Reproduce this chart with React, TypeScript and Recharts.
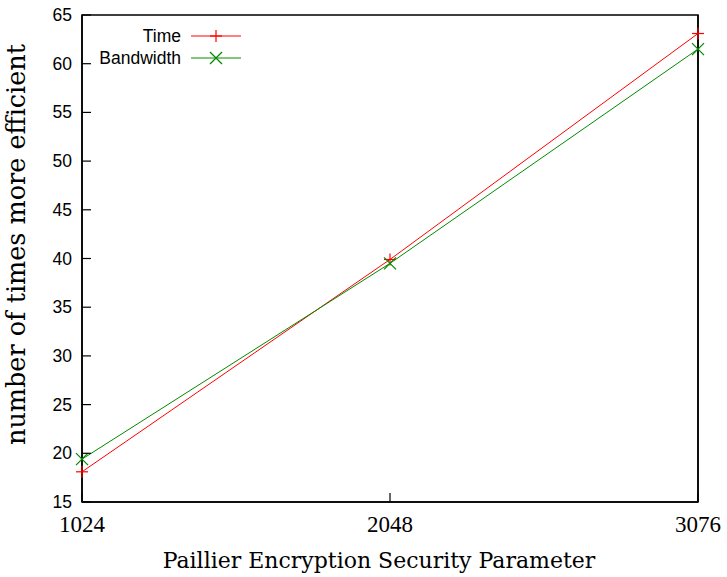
import React from 'react';
import { LineChart, Line, XAxis, YAxis, Label, ReferenceArea } from 'recharts';

const categories = ['1024', '2048', '3076'];
const timeValues = [18.1, 39.9, 63.1];
const bandwidthValues = [19.4, 39.5, 61.5];
const yTicks = [15, 20, 25, 30, 35, 40, 45, 50, 55, 60, 65];

const data = categories.map((c, i) => ({ param: c, time: timeValues[i], bandwidth: bandwidthValues[i] }));

const RED = '#ff0000';
const GREEN = '#008a00';
const SERIF = '"Liberation Serif", "DejaVu Serif", serif';
const LABEL_SERIF = '"DejaVu Serif", serif';
const SANS = '"Liberation Sans", Arial, sans-serif';
const TICK_MARGIN = 10;
const TICK_LEN = 9;

const PlusDot = (props: any) => {
  const { cx, cy } = props;
  if (cx == null || cy == null) return null;
  const s = 6;
  return (
    <g>
      <line x1={cx - s} y1={cy} x2={cx + s} y2={cy} stroke={RED} strokeWidth={1.2} />
      <line x1={cx} y1={cy - s} x2={cx} y2={cy + s} stroke={RED} strokeWidth={1.2} />
    </g>
  );
};

const CrossDot = (props: any) => {
  const { cx, cy } = props;
  if (cx == null || cy == null) return null;
  const s = 6;
  return (
    <g>
      <line x1={cx - s} y1={cy - s} x2={cx + s} y2={cy + s} stroke={GREEN} strokeWidth={1.2} />
      <line x1={cx - s} y1={cy + s} x2={cx + s} y2={cy - s} stroke={GREEN} strokeWidth={1.2} />
    </g>
  );
};

const LeftTick = (props: any) => {
  const { x, y, payload } = props;
  const ax = x + TICK_MARGIN;
  return (
    <g>
      <line x1={ax} y1={y} x2={ax + TICK_LEN} y2={y} stroke="#000" strokeWidth={1.2} />
      <text x={x} y={y} dy={6} textAnchor="end" fontFamily={SANS} fontSize={17.5} fill="#000">
        {payload.value}
      </text>
    </g>
  );
};

const RightTick = (props: any) => {
  const { x, y } = props;
  const ax = x - TICK_MARGIN;
  return <line x1={ax} y1={y} x2={ax - TICK_LEN} y2={y} stroke="#000" strokeWidth={1.2} />;
};

const BottomTick = (props: any) => {
  const { x, y, payload } = props;
  const ay = y - TICK_MARGIN;
  return (
    <g>
      <line x1={x} y1={ay} x2={x} y2={ay - TICK_LEN} stroke="#000" strokeWidth={1.2} />
      <text x={x} y={y} dy={20} textAnchor="middle" fontFamily={SERIF} fontSize={23} fill="#000">
        {payload.value}
      </text>
    </g>
  );
};

const LegendOverlay = () => (
  <svg width={260} height={70} style={{ position: 'absolute', left: 0, top: 0, pointerEvents: 'none' }}>
    <text x={181} y={42} textAnchor="end" fontFamily={SANS} fontSize={17.5} fill="#000">Time</text>
    <line x1={191} y1={36} x2={241} y2={36} stroke={RED} strokeWidth={1} />
    <PlusDot cx={216} cy={36} />
    <text x={181} y={64} textAnchor="end" fontFamily={SANS} fontSize={17.5} fill="#000">Bandwidth</text>
    <line x1={191} y1={58} x2={241} y2={58} stroke={GREEN} strokeWidth={1} />
    <CrossDot cx={216} cy={58} />
  </svg>
);

export default function App() {
  return (
    <div style={{ position: 'absolute', left: 0, top: 0, width: 727, height: 577, background: '#fff' }}>
      <LineChart width={727} height={577} data={data} margin={{ top: 15, right: 28, bottom: 0, left: 0 }}>
        <XAxis
          dataKey="param"
          xAxisId="bottom"
          height={75}
          axisLine={{ stroke: '#000', strokeWidth: 1.5 }}
          tickLine={false}
          tickSize={0}
          tickMargin={TICK_MARGIN}
          tick={<BottomTick />}
          interval={0}
        >
          <Label
            value="Paillier Encryption Security Parameter"
            position="insideBottom"
            offset={9}
            dx={-11}
            style={{ fontFamily: LABEL_SERIF, fontSize: 22, fill: '#000' }}
          />
        </XAxis>
        <YAxis
          yAxisId="left"
          domain={[15, 65]}
          ticks={yTicks}
          width={82}
          axisLine={{ stroke: '#000', strokeWidth: 1.5 }}
          tickLine={false}
          tickSize={0}
          tickMargin={TICK_MARGIN}
          tick={<LeftTick />}
          interval={0}
        >
          <Label
            value="number of times more efficient"
            angle={-90}
            position="insideLeft"
            offset={16}
            dy={-14}
            style={{ fontFamily: LABEL_SERIF, fontSize: 25.5, fill: '#000', textAnchor: 'middle' }}
          />
        </YAxis>
        <YAxis
          yAxisId="right"
          orientation="right"
          domain={[15, 65]}
          ticks={yTicks}
          width={1}
          axisLine={{ stroke: '#000', strokeWidth: 1.5 }}
          tickLine={false}
          tickSize={0}
          tickMargin={TICK_MARGIN}
          tick={<RightTick />}
          interval={0}
        />
        <ReferenceArea
          xAxisId="bottom"
          yAxisId="left"
          x1="1024"
          x2="3076"
          y1={15}
          y2={65}
          fill="none"
          fillOpacity={0}
          stroke="#000"
          strokeWidth={1.5}
          ifOverflow="visible"
        />
        <Line
          xAxisId="bottom"
          yAxisId="left"
          type="linear"
          dataKey="time"
          name="Time"
          stroke={RED}
          strokeWidth={1}
          dot={<PlusDot />}
          activeDot={false}
          isAnimationActive={false}
        />
        <Line
          xAxisId="bottom"
          yAxisId="left"
          type="linear"
          dataKey="bandwidth"
          name="Bandwidth"
          stroke={GREEN}
          strokeWidth={1}
          dot={<CrossDot />}
          activeDot={false}
          isAnimationActive={false}
        />
      </LineChart>
      <LegendOverlay />
    </div>
  );
}
